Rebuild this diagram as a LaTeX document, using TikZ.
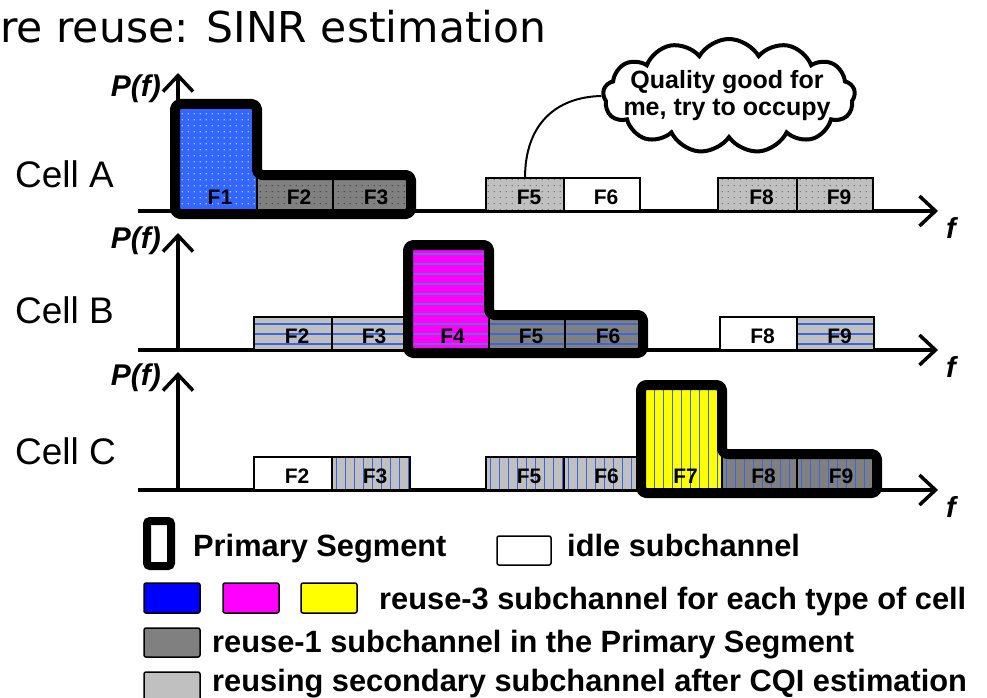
\documentclass[tikz,border=0pt]{standalone}
\usepackage{fontspec}
\setmainfont{Liberation Sans}
\newfontfamily\titlefont{DejaVu Sans}
\usetikzlibrary{arrows.meta,shapes.symbols,patterns.meta}

\definecolor{bluA}{HTML}{3366FF}
\definecolor{dotlb}{HTML}{A8C4FF}
\definecolor{gdark}{HTML}{808080}
\definecolor{glight}{HTML}{C0C0C0}
\definecolor{dotdk}{HTML}{4A4A4A}
\definecolor{dotlt}{HTML}{7A7A7A}
\definecolor{linec}{HTML}{3A66E0}
\definecolor{linem}{HTML}{6C6CD0}
\definecolor{magC}{HTML}{FF00FF}
\definecolor{yelC}{HTML}{FFFF00}
\definecolor{pureblue}{HTML}{0000FF}

\tikzdeclarepattern{
  name=dotgrid, type=uncolored,
  bottom left={(0pt,0pt)}, top right={(6pt,6pt)}, tile size={(6pt,6pt)},
  code={\pgfpathrectangle{\pgfpoint{2pt}{2pt}}{\pgfpoint{1.4pt}{1.4pt}}\pgfusepath{fill}}
}

\tikzset{
  chan/.style={draw=black, line width=1.5pt, inner sep=0pt, outer sep=0pt},
  redraw/.style={postaction={draw=black, line width=1.5pt}},
  hl/.style={path picture={\foreach \k in {0,...,11}
      \draw[#1, line width=1.2pt] ([yshift=6+10*\k]path picture bounding box.south west)
        -- ([yshift=6+10*\k]path picture bounding box.south east);}},
  vl/.style={path picture={\foreach \k in {0,...,9}
      \draw[#1, line width=1.2pt] ([xshift=4.5+9*\k]path picture bounding box.south west)
        -- ([xshift=4.5+9*\k]path picture bounding box.north west);}},
  dotsblue/.style={fill=bluA, postaction={pattern=dotgrid, pattern color=dotlb}, redraw},
  dotsdark/.style={fill=gdark, postaction={pattern=dotgrid, pattern color=dotdk}, redraw},
  dotslight/.style={fill=glight, postaction={pattern=dotgrid, pattern color=dotlt}, redraw},
  hldark/.style={fill=gdark, hl=linec},
  hllight/.style={fill=glight, hl=linec},
  hlmag/.style={fill=magC, hl=linem},
  vldark/.style={fill=gdark, vl=linec},
  vllight/.style={fill=glight, vl=linec},
  vlyel/.style={fill=yelC, vl=linec},
  idle/.style={fill=white},
  flabel/.style={font=\bfseries\fontsize{21}{21}\selectfont, inner sep=0pt},
  axisline/.style={line width=3.5pt, -{Straight Barb[length=16pt,width=30pt]}},
  primary/.style={line width=10pt, rounded corners=5pt, line join=round},
  celltext/.style={font=\fontsize{37}{37}\selectfont, inner sep=0pt, anchor=base west},
  pftext/.style={font=\bfseries\itshape\fontsize{30}{30}\selectfont, inner sep=0pt, anchor=base east},
  ftext/.style={font=\bfseries\itshape\fontsize{29}{29}\selectfont, inner sep=0pt, anchor=base west},
  legtext/.style={font=\bfseries\fontsize{30.8}{30.8}\selectfont, inner sep=0pt, anchor=base west},
  legbox/.style={draw=black, line width=1.5pt, rounded corners=2pt, inner sep=0pt},
}

\newcommand{\chanbox}[7]{%
  \node[chan, #6, minimum width={#3-#2}, minimum height={#5-#4}, anchor=north west] (#1) at (#2,#4) {};
  \node[flabel] (#1l) at ({(#2+#3)/2+4},{#5-14}) {#7};
}

\begin{document}
\begin{tikzpicture}[x=1pt,y=-1pt]
\useasboundingbox (0,0) rectangle (987,698);

% title
\node[font=\titlefont\fontsize{42.5}{42.5}\selectfont, inner sep=0pt, anchor=base west] (title) at (0,43) {re reuse: SINR estimation};

% ---------- Cell A ----------
\node[celltext] (cellA) at (15,187) {Cell A};
\coordinate (axA0) at (138,211);
\coordinate (axA1) at (938,211);
\coordinate (vaA0) at (178,211);
\coordinate (vaA1) at (178,73);
\draw[axisline] (axA0) -- (axA1);
\draw[axisline] (vaA0) -- (vaA1);
\node[pftext] (pfA) at (161,97) {P(f)};
\node[ftext] (fA) at (946,238) {f};

\chanbox{a1}{175}{257}{104}{211}{dotsblue}{F1}
\chanbox{a2}{257}{333}{175}{211}{dotsdark}{F2}
\chanbox{a3}{333}{411}{175}{211}{dotsdark}{F3}
\chanbox{a5}{486}{564}{178}{211}{dotslight}{F5}
\chanbox{a6}{564}{640}{178}{211}{idle}{F6}
\chanbox{a8}{718}{797}{178}{211}{dotslight}{F8}
\chanbox{a9}{797}{873}{178}{211}{dotslight}{F9}
\draw[primary] (175,214) -- (175,104) -- (257,104) -- (257,175) -- (411,175) -- (411,214) -- cycle;

% ---------- Cell B ----------
\node[celltext] (cellB) at (15,323) {Cell B};
\coordinate (axB0) at (138,350);
\coordinate (axB1) at (938,350);
\coordinate (vaB0) at (178,350);
\coordinate (vaB1) at (178,233);
\draw[axisline] (axB0) -- (axB1);
\draw[axisline] (vaB0) -- (vaB1);
\node[pftext] (pfB) at (161,248) {P(f)};
\node[ftext] (fB) at (946,377) {f};

\chanbox{b2}{254}{332}{317}{350}{hllight}{F2}
\chanbox{b3}{332}{408}{317}{350}{hllight}{F3}
\chanbox{b4}{408}{489}{245}{350}{hlmag}{F4}
\chanbox{b5}{489}{565}{315}{350}{hldark}{F5}
\chanbox{b6}{565}{643}{315}{350}{hldark}{F6}
\chanbox{b8}{720}{797}{317}{350}{idle}{F8}
\chanbox{b9}{797}{874}{317}{350}{hllight}{F9}
\draw[primary] (408,353) -- (408,245) -- (489,245) -- (489,315) -- (643,315) -- (643,353) -- cycle;

% ---------- Cell C ----------
\node[celltext] (cellC) at (15,464) {Cell C};
\coordinate (axC0) at (138,490);
\coordinate (axC1) at (938,490);
\coordinate (vaC0) at (178,490);
\coordinate (vaC1) at (178,372);
\draw[axisline] (axC0) -- (axC1);
\draw[axisline] (vaC0) -- (vaC1);
\node[pftext] (pfC) at (161,385) {P(f)};
\node[ftext] (fC) at (946,517) {f};

\chanbox{c2}{254}{332}{457}{490}{idle}{F2}
\chanbox{c3}{332}{410}{457}{490}{vllight}{F3}
\chanbox{c5}{486}{564}{457}{490}{vllight}{F5}
\chanbox{c6}{564}{641}{457}{490}{vllight}{F6}
\chanbox{c7}{641}{722}{385}{490}{vlyel}{F7}
\chanbox{c8}{722}{797}{454}{490}{vldark}{F8}
\chanbox{c9}{797}{877}{454}{490}{vldark}{F9}
\draw[primary] (641,493) -- (641,385) -- (722,385) -- (722,454) -- (877,454) -- (877,493) -- cycle;

% ---------- cloud ----------
\node[cloud, draw=black, fill=white, line width=4pt, cloud puffs=13, cloud puff arc=120, aspect=2.2,
      minimum width=252, minimum height=114, inner sep=0pt] (cloud) at (729,96) {};
\node[font=\bfseries\fontsize{25}{27}\selectfont, align=center, inner sep=0pt] (cloudtext) at (727,96)
  {Quality good for\\me, try to occupy};
\draw[line width=2pt] (a5.north) .. controls (525,125) and (555,97) .. (cloud.west);

% ---------- legend ----------
\node[draw=black, line width=8pt, rounded corners=3pt, inner sep=0pt, minimum width=24, minimum height=45] (lgprim) at (159,543.5) {};
\node[legtext] (lgprimt) at (193,556) {Primary Segment};
\node[legbox, fill=white, minimum width=54, minimum height=29] (lgidle) at (524,550.5) {};
\node[legtext] (lgidlet) at (567,556) {idle subchannel};
\node[legbox, fill=pureblue, minimum width=56, minimum height=30] (lgblue) at (172,598) {};
\node[legbox, fill=magC, minimum width=56, minimum height=30] (lgmag) at (251,598) {};
\node[legbox, fill=yelC, minimum width=56, minimum height=30] (lgyel) at (329,598) {};
\node[legtext] (lgr3) at (379,609) {reuse-3 subchannel for each type of cell};
\node[legbox, fill=gdark, minimum width=56, minimum height=29] (lgdark) at (172,642.5) {};
\node[legtext] (lgr1) at (212,652) {reuse-1 subchannel in the Primary Segment};
\node[legbox, fill=glight, minimum width=56, minimum height=30] (lglight) at (172,687) {};
\node[legtext] (lgsec) at (212,691) {reusing secondary subchannel after CQI estimation};
\end{tikzpicture}
\end{document}
